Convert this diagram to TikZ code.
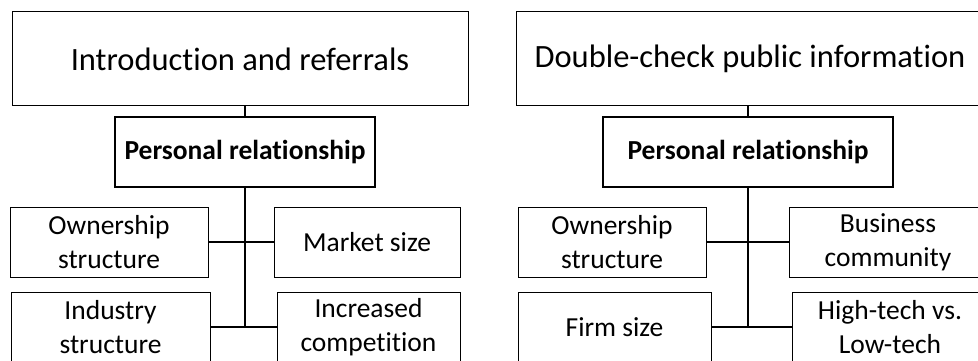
\documentclass[tikz,border=0pt]{standalone}
\usepackage{fontspec}
\setmainfont[Ligatures=NoCommon]{Carlito}
\begin{document}
\begin{tikzpicture}[x=1pt,y=-1pt,
  topbox/.style={draw=black, line width=1pt, fill=white, inner sep=0pt, font=\fontsize{32.5}{39}\selectfont},
  prbox/.style={draw=black, line width=2pt, fill=white, inner sep=0pt, font=\fontsize{27.5}{32}\selectfont\bfseries},
  leaf/.style={draw=black, line width=1pt, fill=white, inner sep=0pt, align=center, font=\fontsize{27.5}{34}\selectfont},
  trunk/.style={line width=2pt},
  twig/.style={line width=1.3pt},
  stem/.style={line width=1.2pt}]
\path[use as bounding box, clip] (0,0) rectangle (978,361);
% left tree
\node[topbox, minimum width=456pt, minimum height=94pt] (lt) at (240,59) {Introduction and referrals};
\node[prbox, minimum width=260pt, minimum height=70pt] (lp) at (245,152) {Personal relationship};
\node[leaf, minimum width=198pt, minimum height=70pt] (lo) at (109,242) {Ownership\\structure};
\node[leaf, minimum width=186pt, minimum height=70pt] (lm) at (367,242) {Market size};
\node[leaf, minimum width=199pt, minimum height=70pt] (li) at (110.5,327) {Industry\\structure};
\node[leaf, minimum width=183pt, minimum height=70pt] (lc) at (368.5,327) {Increased\\competition};
\coordinate (lb) at (245,327);
\draw[stem] (lt.south -| lp.north) -- (lp.north);
\draw[trunk] (lp.south) -- (lb);
\draw[twig] (lo.east) -- (lm.west);
\draw[twig] (li.east) -- (lc.west);
% right tree
\node[topbox, minimum width=468pt, minimum height=94pt] (rt) at (750,59) {Double-check public information};
\node[prbox, minimum width=290pt, minimum height=70pt] (rp) at (748,152) {Personal relationship};
\node[leaf, minimum width=188pt, minimum height=70pt] (ro) at (612,242) {Ownership\\structure};
\node[leaf, minimum width=198pt, minimum height=70pt] (rm) at (888,242) {Business\\community};
\node[leaf, minimum width=193pt, minimum height=70pt] (ri) at (614.5,327) {Firm size};
\node[leaf, minimum width=196pt, minimum height=70pt] (rc) at (890,327) {High-tech vs.\\Low-tech};
\coordinate (rb) at (748,327);
\draw[stem] (rt.south -| rp.north) -- (rp.north);
\draw[trunk] (rp.south) -- (rb);
\draw[twig] (ro.east) -- (rm.west);
\draw[twig] (ri.east) -- (rc.west);
\end{tikzpicture}
\end{document}
